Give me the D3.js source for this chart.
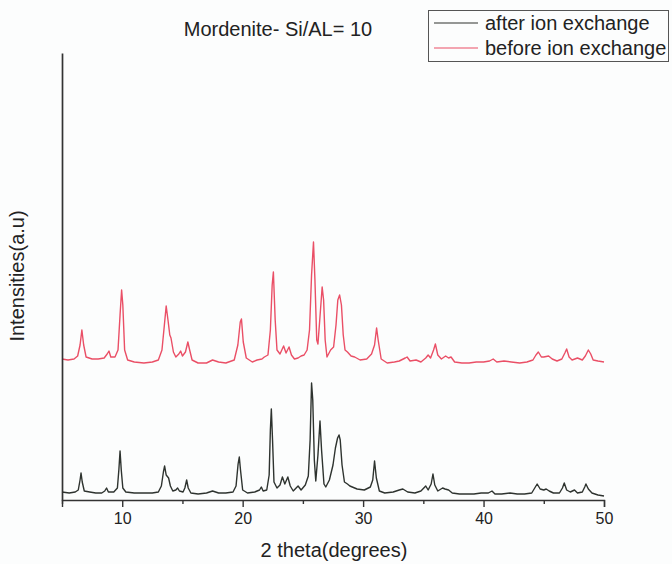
<!DOCTYPE html>
<html>
<head>
<meta charset="utf-8">
<script src="https://cdn.jsdelivr.net/npm/d3@7"></script>
<style>
  html, body { margin: 0; padding: 0; background: #fcfdfd; }
  svg { display: block; }
  text { font-family: "Liberation Sans", Arial, sans-serif; fill: #222; }
</style>
</head>
<body>
<svg id="chart" width="672" height="564"></svg>
<script>
// ---- data (2θ in degrees, intensity in arbitrary units) ----
const titleText = "Mordenite- Si/AL= 10";
const seriesNames = ["after ion exchange", "before ion exchange"];
const xTicks = [10, 20, 30, 40, 50];
const xMinorTicks = [5, 15, 25, 35, 45];

const afterIonExchange = [
  [5.0, 8], [5.6, 7], [6.1, 8], [6.35, 10], [6.5, 20], [6.58, 27], [6.68, 18], [6.85, 9], [7.3, 8], [7.8, 7],
  [8.3, 7], [8.55, 9], [8.7, 12], [8.85, 8], [9.3, 8], [9.6, 12], [9.72, 30], [9.82, 49], [9.92, 30], [10.05, 12],
  [10.3, 8], [11.0, 7], [11.8, 7], [12.5, 7], [13.0, 8], [13.25, 14], [13.42, 28], [13.52, 34], [13.65, 25], [13.85, 22],
  [14.0, 14], [14.2, 9], [14.45, 10], [14.6, 12], [14.75, 9], [15.05, 8], [15.2, 12], [15.35, 20], [15.48, 12], [15.7, 7],
  [16.3, 6], [17.0, 7], [17.5, 9], [18.0, 7], [18.6, 7], [19.2, 8], [19.45, 14], [19.62, 36], [19.72, 43], [19.82, 30],
  [20.0, 10], [20.4, 7], [21.0, 8], [21.4, 10], [21.55, 13], [21.7, 9], [22.0, 10], [22.2, 25], [22.3, 70], [22.38, 91],
  [22.48, 60], [22.6, 18], [22.85, 12], [23.1, 15], [23.3, 23], [23.5, 16], [23.75, 23], [23.95, 14], [24.2, 9], [24.6, 14],
  [24.85, 10], [25.2, 15], [25.45, 24], [25.6, 60], [25.72, 117], [25.82, 100], [25.95, 40], [26.07, 19], [26.25, 45], [26.42, 79],
  [26.55, 50], [26.75, 16], [26.9, 13], [27.2, 20], [27.5, 35], [27.7, 52], [27.88, 62], [28.0, 65], [28.1, 60], [28.25, 35],
  [28.45, 18], [28.7, 16], [28.9, 14], [29.5, 11], [30.1, 10], [30.6, 13], [30.8, 20], [30.95, 39], [31.1, 22], [31.35, 9],
  [31.8, 7], [32.5, 8], [33.0, 10], [33.3, 11], [33.7, 8], [34.3, 7], [34.8, 9], [35.2, 14], [35.4, 10], [35.65, 16],
  [35.8, 26], [35.95, 15], [36.2, 9], [36.6, 12], [36.8, 11], [37.1, 10], [37.4, 7], [38.0, 6], [38.6, 6], [39.2, 6],
  [39.8, 7], [40.4, 7], [40.7, 9], [40.95, 6], [41.5, 6], [42.2, 7], [42.8, 6], [43.4, 6], [44.0, 7], [44.25, 12],
  [44.45, 16], [44.7, 11], [45.0, 10], [45.2, 11], [45.45, 9], [45.8, 7], [46.3, 7], [46.55, 12], [46.7, 17], [46.9, 10],
  [47.2, 8], [47.55, 10], [47.8, 7], [48.2, 8], [48.4, 13], [48.5, 16], [48.7, 11], [49.0, 7], [49.5, 5], [50.0, 4]
];

const beforeIonExchange = [
  [5.0, 141], [5.5, 140], [6.0, 141], [6.3, 144], [6.5, 155], [6.65, 170], [6.8, 155], [7.0, 143], [7.5, 141], [8.0, 141],
  [8.5, 142], [8.75, 146], [8.9, 149], [9.05, 143], [9.4, 143], [9.65, 150], [9.82, 185], [9.95, 210], [10.05, 195], [10.2, 150],
  [10.45, 140], [11.0, 138], [11.8, 137], [12.5, 138], [13.0, 140], [13.3, 150], [13.5, 175], [13.65, 194], [13.8, 180], [13.95, 165],
  [14.05, 162], [14.25, 148], [14.45, 143], [14.7, 146], [14.85, 149], [15.0, 144], [15.25, 148], [15.45, 158], [15.6, 150], [15.8, 140],
  [16.3, 137], [17.0, 137], [17.5, 140], [18.0, 138], [18.6, 137], [19.3, 140], [19.6, 155], [19.8, 178], [19.9, 181], [20.05, 158],
  [20.3, 142], [20.8, 138], [21.2, 140], [21.6, 141], [21.8, 143], [22.1, 145], [22.3, 170], [22.45, 215], [22.55, 228], [22.7, 180],
  [22.85, 150], [23.1, 146], [23.4, 154], [23.6, 147], [23.85, 153], [24.05, 145], [24.3, 141], [24.6, 142], [24.85, 144], [25.1, 145],
  [25.35, 150], [25.55, 170], [25.72, 225], [25.88, 258], [26.0, 220], [26.15, 160], [26.25, 156], [26.4, 180], [26.6, 213], [26.72, 200],
  [26.85, 160], [27.0, 143], [27.3, 150], [27.55, 153], [27.75, 175], [27.9, 200], [28.05, 205], [28.2, 195], [28.35, 165], [28.5, 150],
  [28.7, 148], [29.0, 144], [29.3, 143], [29.75, 140], [30.3, 141], [30.7, 146], [30.95, 155], [31.12, 172], [31.25, 160], [31.5, 141],
  [32.0, 137], [32.6, 138], [33.0, 139], [33.5, 142], [33.65, 143], [33.9, 139], [34.4, 140], [34.8, 138], [35.2, 142], [35.4, 145],
  [35.6, 142], [35.85, 150], [36.0, 156], [36.2, 145], [36.5, 141], [36.85, 144], [37.1, 142], [37.3, 143], [37.6, 138], [38.2, 137],
  [38.8, 137], [39.4, 138], [40.0, 138], [40.5, 139], [40.8, 141], [41.1, 138], [41.7, 139], [42.3, 138], [43.0, 137], [43.6, 138],
  [44.1, 140], [44.35, 145], [44.55, 148], [44.8, 143], [45.0, 143], [45.4, 144], [45.7, 141], [46.1, 139], [46.5, 141], [46.75, 147],
  [46.9, 151], [47.1, 143], [47.35, 140], [47.8, 142], [48.2, 140], [48.45, 144], [48.7, 150], [48.9, 146], [49.1, 140], [49.5, 139],
  [50.0, 138]
];

const seriesColors = ["#2e332f", "#ea4f66"];

// ---- layout ----
const svg = d3.select("#chart");
const plotLeft = 62, plotRight = 604, plotTop = 53, plotBottom = 500;

const x = d3.scaleLinear().domain([5, 50]).range([plotLeft, plotRight]);
const y = d3.scaleLinear().domain([0, 447]).range([plotBottom, plotTop]);

const line = d3.line().x(d => x(d[0])).y(d => y(d[1]));

// series
[afterIonExchange, beforeIonExchange].forEach((data, i) => {
  svg.append("path")
    .datum(data)
    .attr("d", line)
    .attr("fill", "none")
    .attr("stroke", seriesColors[i])
    .attr("stroke-width", 1.4)
    .attr("stroke-linejoin", "round");
});

// x axis
const xAxis = d3.axisBottom(x).tickValues(xTicks).tickSize(7).tickPadding(6).tickFormat(d3.format("d"));
const gx = svg.append("g").attr("transform", `translate(0,${plotBottom})`).call(xAxis);
gx.select(".domain").attr("stroke", "#333").attr("stroke-width", 1.4);
gx.selectAll(".tick line").attr("stroke", "#333").attr("stroke-width", 1.4);
gx.selectAll(".tick text").attr("font-size", 16).attr("font-family", "Liberation Sans, Arial, sans-serif").attr("fill", "#222");

const xMinor = d3.axisBottom(x).tickValues(xMinorTicks).tickSize(4).tickFormat("");
const gxm = svg.append("g").attr("transform", `translate(0,${plotBottom})`).call(xMinor);
gxm.select(".domain").remove();
gxm.selectAll(".tick line").attr("stroke", "#333").attr("stroke-width", 1.4);

// y axis (no ticks)
const yAxis = d3.axisLeft(y).tickValues([]).tickSizeOuter(0);
const gy = svg.append("g").attr("transform", `translate(${plotLeft},0)`).call(yAxis);
gy.select(".domain").attr("stroke", "#333").attr("stroke-width", 1.7);

// axis labels
svg.append("text")
  .attr("x", (plotLeft + plotRight) / 2 + 1)
  .attr("y", 557)
  .attr("text-anchor", "middle")
  .attr("font-size", 20)
  .text("2 theta(degrees)");

svg.append("text")
  .attr("transform", "translate(24,276) rotate(-90)")
  .attr("text-anchor", "middle")
  .attr("font-size", 20)
  .text("Intensities(a.u)");

// title
svg.append("text")
  .attr("x", 278)
  .attr("y", 36)
  .attr("text-anchor", "middle")
  .attr("font-size", 20)
  .text(titleText);

// legend
const lg = svg.append("g");
lg.append("rect")
  .attr("x", 428.5).attr("y", 10.5).attr("width", 240).attr("height", 51)
  .attr("fill", "none").attr("stroke", "#555").attr("stroke-width", 1);
seriesNames.forEach((name, i) => {
  const ly = 23 + i * 25;
  lg.append("line")
    .attr("x1", 434).attr("x2", 478).attr("y1", ly).attr("y2", ly)
    .attr("stroke", seriesColors[i]).attr("stroke-width", 1.2);
  lg.append("text")
    .attr("x", 485).attr("y", ly + 6.5)
    .attr("font-size", 20)
    .text(name);
});
</script>
</body>
</html>
